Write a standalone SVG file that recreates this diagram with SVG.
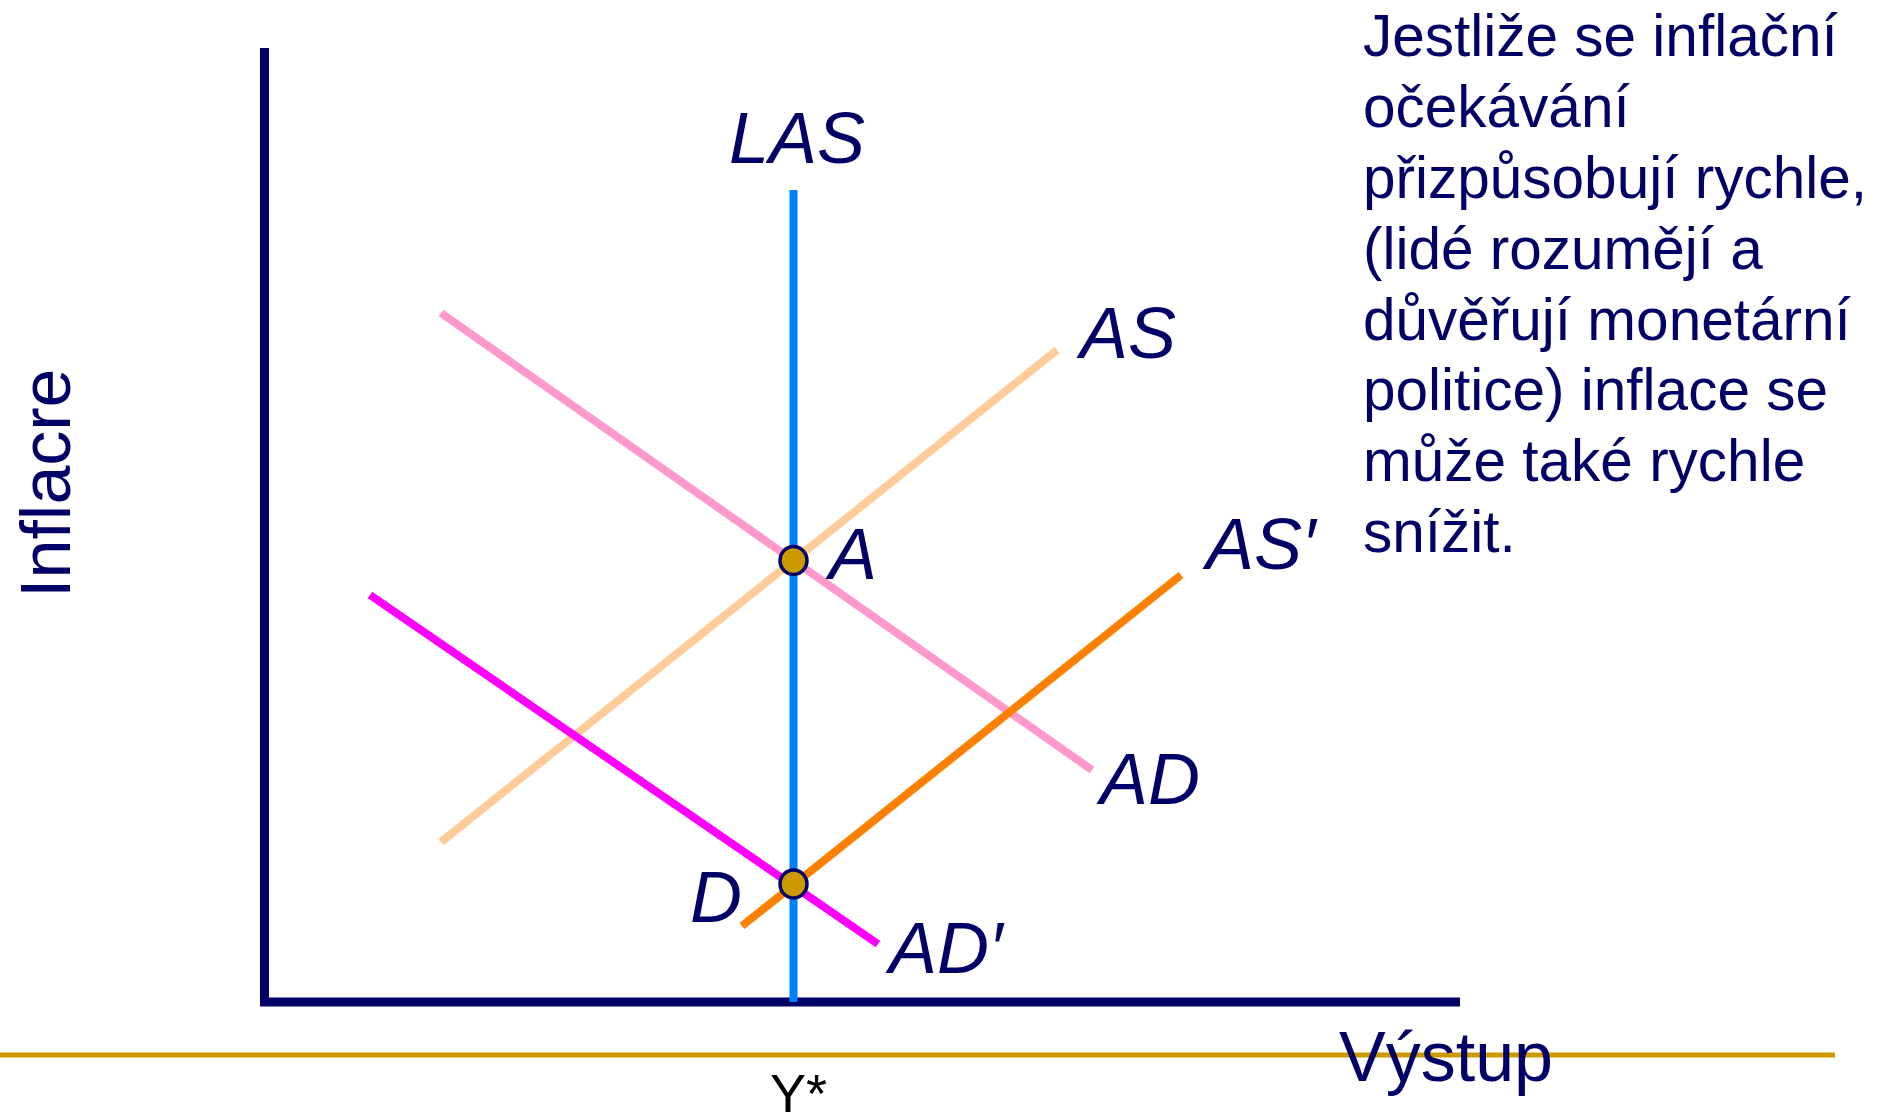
<svg xmlns="http://www.w3.org/2000/svg" width="1886" height="1114" viewBox="0 0 1886 1114">
<style>
.lbl{font-family:"Liberation Sans",Arial,sans-serif;font-style:italic;font-size:72px;fill:#000066}
.txt{font-family:"Liberation Sans",Arial,sans-serif;font-size:58.5px;fill:#000066}
.crv{fill:none;stroke-width:8;stroke-linecap:butt}
.pt{fill:#CC9900;stroke:#000066;stroke-width:3.5}
</style>
<rect width="1886" height="1114" fill="#ffffff"/>
<line x1="0" y1="1055" x2="1835" y2="1055" stroke="#CC9900" stroke-width="5"/>
<g id="axes">
<line x1="264.5" y1="48" x2="264.5" y2="1006" stroke="#000066" stroke-width="9"/>
<line x1="260" y1="1002" x2="1460" y2="1002" stroke="#000066" stroke-width="9"/>
<text x="1339" y="1081" font-family="Liberation Sans,Arial,sans-serif" font-size="70" fill="#000066">Výstup</text>
<text transform="translate(70,598) rotate(-90)" font-family="Liberation Sans,Arial,sans-serif" font-size="70" fill="#000066">Inflacre</text>
<text x="770" y="1112" font-family="Liberation Sans,Arial,sans-serif" font-size="54" fill="#000000">Y*</text>
</g>
<g id="connectors">
<line id="LAS-line" class="crv" x1="793.5" y1="190" x2="793.5" y2="1002" stroke="#0080FF"/>
<line id="AS-line" class="crv" x1="441" y1="842" x2="1057" y2="350" stroke="#FFCC99"/>
<line id="AD-line" class="crv" x1="441" y1="313" x2="1092" y2="770" stroke="#FF99CC"/>
<line id="ASp-line" class="crv" x1="742" y1="926" x2="1181" y2="575" stroke="#FF8000"/>
<line id="ADp-line" class="crv" x1="370" y1="595" x2="878" y2="944" stroke="#FF00FF"/>
</g>
<g id="LAS"><text class="lbl" x="729" y="163">LAS</text></g>
<g id="AS"><text class="lbl" x="1080" y="358">AS</text></g>
<g id="ASp"><text class="lbl" x="1206" y="569">AS′</text></g>
<g id="AD"><text class="lbl" x="1100" y="804">AD</text></g>
<g id="ADp"><text class="lbl" x="889" y="973">AD′</text></g>
<g id="pointA"><ellipse class="pt" cx="793.5" cy="560.5" rx="13.5" ry="14"/><text class="lbl" x="829" y="579">A</text></g>
<g id="pointD"><ellipse class="pt" cx="793.5" cy="884" rx="13.5" ry="14"/><text class="lbl" x="690" y="922">D</text></g>
<g id="note">
<text class="txt" x="1363">
<tspan x="1363" y="56">Jestliže se inflační</tspan>
<tspan x="1363" y="127">očekávání</tspan>
<tspan x="1363" y="198">přizpůsobují rychle,</tspan>
<tspan x="1363" y="269">(lidé rozumějí a</tspan>
<tspan x="1363" y="340">důvěřují monetární</tspan>
<tspan x="1363" y="410">politice) inflace se</tspan>
<tspan x="1363" y="481">může také rychle</tspan>
<tspan x="1363" y="552">snížit.</tspan>
</text>
</g>
</svg>
